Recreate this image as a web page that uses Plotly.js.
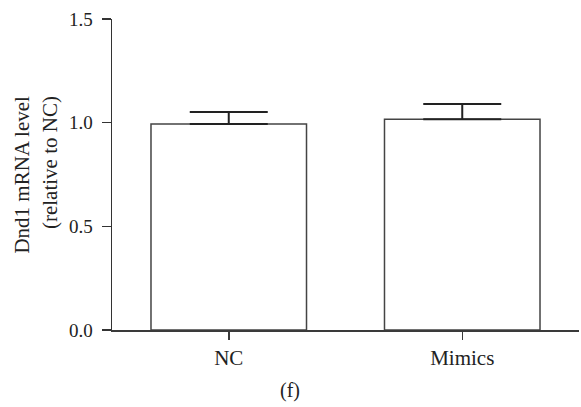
<!DOCTYPE html>
<html>
<head>
<meta charset="utf-8">
<script src="https://cdn.plot.ly/plotly-3.0.1.min.js"></script>
<style>html,body{margin:0;padding:0;background:#fff;}#chart{width:581px;height:407px;}</style>
</head>
<body>
<div id="chart"></div>
<script>
var categories = ["NC", "Mimics"];
var values = [0.994, 1.016];
var errors = [0.058, 0.074];
var yTicks = [0, 0.5, 1.0, 1.5];
var yTickLabels = ["0.0", "0.5", "1.0", "1.5"];
var yTitle = "Dnd1 mRNA level<br>(relative to NC)";
var panelLabel = "(f)";

var FONT = "Liberation Serif, Times New Roman, serif";
var PLOT_W = 467.4, PLOT_H = 310.7, ML = 112, MT = 19;

var trace = {
  type: "bar",
  x: categories,
  y: values,
  width: 0.666,
  marker: {color: "#ffffff", line: {color: "#444444", width: 1.5}},
  error_y: {type: "data", symmetric: false, array: errors, arrayminus: [0, 0],
            color: "#222222", thickness: 2, width: 39},
  hoverinfo: "skip"
};

var layout = {
  width: 581, height: 407,
  margin: {l: ML, r: 1.6, t: MT, b: 407 - MT - PLOT_H},
  paper_bgcolor: "#ffffff", plot_bgcolor: "#ffffff",
  showlegend: false,
  font: {family: FONT, size: 19, color: "#222222"},
  xaxis: {
    range: [-0.5, 1.5], showgrid: false, zeroline: false,
    showline: true, linecolor: "#3a3a3a", linewidth: 1.5,
    ticks: "outside", ticklen: 8, tickwidth: 1.5, tickcolor: "#3a3a3a",
    tickfont: {family: FONT, size: 21, color: "#222222"}
  },
  yaxis: {
    range: [0, 1.5], showgrid: false, zeroline: false,
    showline: true, linecolor: "#333333", linewidth: 1.5,
    ticks: "outside", ticklen: 9, tickwidth: 1.5, tickcolor: "#333333",
    tickvals: yTicks, ticktext: yTickLabels, ticklabelstandoff: 5,
    tickfont: {family: FONT, size: 19, color: "#222222"}
  },
  annotations: [{
    text: yTitle, textangle: -90, align: "right",
    xref: "paper", yref: "paper",
    x: (35.4 - ML) / PLOT_W, y: 1 - (174 - MT) / PLOT_H,
    xanchor: "center", yanchor: "middle", showarrow: false,
    font: {family: FONT, size: 21, color: "#222222"}
  }, {
    text: panelLabel, xref: "paper", yref: "paper",
    x: (290.5 - ML) / PLOT_W, y: 1 - (390 - MT) / PLOT_H,
    xanchor: "center", yanchor: "middle", showarrow: false,
    font: {family: FONT, size: 20, color: "#222222"}
  }]
};

Plotly.newPlot("chart", [trace], layout, {staticPlot: true});
</script>
</body>
</html>
